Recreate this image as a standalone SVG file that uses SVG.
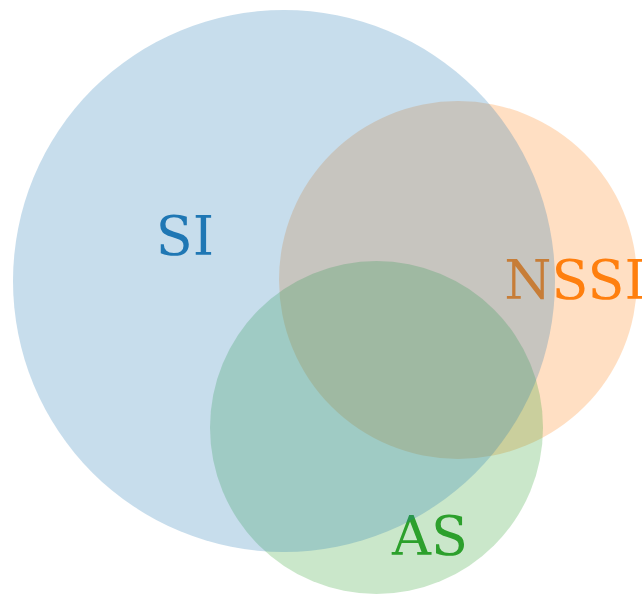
<svg xmlns="http://www.w3.org/2000/svg" width="642" height="594" viewBox="0 0 642 594">
<style>
.lbl{font-family:"DejaVu Serif","Liberation Serif",serif;font-size:54px;text-anchor:middle}
.set{fill-opacity:0.25}
</style>
<rect width="642" height="594" fill="#ffffff"/>
<g id="labels">
<text id="label-SI" class="lbl" x="185" y="255" fill="#1f77b4">SI</text>
<text id="label-NSSI" class="lbl" x="575" y="299" fill="#ff7f0e">NSSI</text>
<text id="label-AS" class="lbl" x="430" y="555" fill="#2ca02c">AS</text>
</g>
<g id="NSSI"><circle class="set" cx="458" cy="280" r="179" fill="#ff7f0e"/></g>
<g id="AS"><circle class="set" cx="376.5" cy="427.5" r="166.5" fill="#2ca02c"/></g>
<g id="SI"><circle class="set" cx="284" cy="281" r="271" fill="#1f77b4"/></g>
<g id="connectors"/>
</svg>
